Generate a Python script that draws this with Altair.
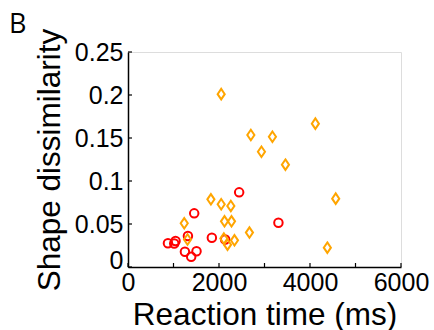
import altair as alt
import pandas as pd

# Red circles
red_rt = [878, 1045, 1016, 1317, 1455, 1251, 1389, 1506, 1843, 2443, 2136, 3306]
red_sd = [0.0276, 0.0302, 0.0273, 0.036, 0.0624, 0.0178, 0.012, 0.0183, 0.034, 0.0868, 0.032, 0.0515]

# Orange diamonds
orange_rt = [2048, 2700, 3174, 2933, 3460, 1822, 2048, 2260, 1236, 2121, 2275, 1308,
             2107, 2187, 2340, 2669, 4118, 4565, 4381]
orange_sd = [0.201, 0.1535, 0.1515, 0.134, 0.119, 0.0787, 0.073, 0.071, 0.0508, 0.0531, 0.0531, 0.032,
             0.033, 0.026, 0.031, 0.040, 0.1667, 0.0795, 0.0225]

x_ticks = [0, 1000, 2000, 3000, 4000, 5000, 6000]
x_labels = [0, 2000, 4000, 6000]
y_ticks = [0, 0.05, 0.1, 0.15, 0.2, 0.25]
panel_label = ["B"]

W, H = 273, 215
FONT = "Liberation Sans"
LFS = 25
TFS = 31.5

xscale = alt.Scale(domain=[0, 6000], nice=False, zero=False)
yscale = alt.Scale(domain=[0, 0.25], nice=False, zero=False)

red_df = pd.DataFrame({"rt": red_rt, "sd": red_sd})
orange_df = pd.DataFrame({"rt": orange_rt, "sd": orange_sd})

xaxis = alt.Axis(values=x_labels, format="d",
                 ticks=False, grid=False, domainColor="black", domainWidth=1.5,
                 labelFont=FONT, labelFontSize=LFS, labelColor="black", labelPadding=3,
                 labelFlush=False, labelOverlap=False,
                 titleFont=FONT, titleFontSize=TFS,
                 titleFontWeight="normal", titleColor="black", titlePadding=4)
yaxis = alt.Axis(values=y_ticks, format="~g",
                 ticks=False, grid=False, domainColor="black", domainWidth=1.5,
                 labelFont=FONT, labelFontSize=LFS, labelColor="black", labelPadding=5,
                 labelOffset={"condition": {"test": "datum.value === 0", "value": -7}, "value": 0},
                 labelFlush=False, labelOverlap=False,
                 titleFont=FONT, titleFontSize=TFS,
                 titleFontWeight="normal", titleColor="black", titlePadding=8)

XT = "Reaction time (ms)"
YT = "Shape dissimilarity"

red = alt.Chart(red_df).mark_point(
    shape="circle", filled=False, color="#ff0000", strokeWidth=2, size=72, opacity=1
).encode(
    x=alt.X("rt:Q", scale=xscale, axis=xaxis, title=XT),
    y=alt.Y("sd:Q", scale=yscale, axis=yaxis, title=YT),
)

orange = alt.Chart(orange_df).mark_point(
    shape="M0,-1L0.68,0L0,1L-0.68,0Z", filled=False, color="#ffa500", strokeWidth=2, size=110, opacity=1
).encode(
    x=alt.X("rt:Q", scale=xscale, axis=xaxis, title=XT),
    y=alt.Y("sd:Q", scale=yscale, axis=yaxis, title=YT),
)

xt = alt.Chart(pd.DataFrame({"v": x_ticks})).mark_rule(color="black", strokeWidth=1.2).encode(
    x=alt.X("v:Q", scale=xscale, axis=xaxis, title=XT),
    y=alt.value(H),
    y2=alt.value(H - 4),
)

yt = alt.Chart(pd.DataFrame({"v": y_ticks})).mark_rule(color="black", strokeWidth=1.2).encode(
    y=alt.Y("v:Q", scale=yscale, axis=yaxis, title=YT),
    x=alt.value(0),
    x2=alt.value(4),
)

label = alt.Chart(pd.DataFrame({"t": panel_label})).mark_text(
    font="Open Sans", fontSize=27, align="left", baseline="alphabetic", color="black"
).encode(
    text="t:N",
    x=alt.value(-119),
    y=alt.value(-19),
)

chart = alt.layer(red, orange, xt, yt, label).properties(
    width=W, height=H,
    autosize=alt.AutoSizeParams(type="none"),
    padding={"left": 128, "top": 52, "right": 33, "bottom": 63},
).configure_view(stroke=None).configure(background="white")

chart.save("out.html", embed_options={"renderer": "svg", "actions": False})
